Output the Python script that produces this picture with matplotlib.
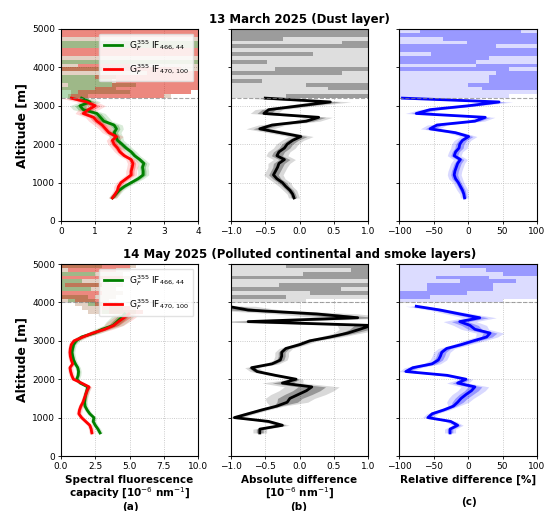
import matplotlib
matplotlib.use("Agg")
import matplotlib.pyplot as plt
import numpy as np

# ---------------- 13 March 2025 (Dust layer) ----------------
mar_alt = list(range(600, 3300, 100))
mar_g466 = [1.50, 1.60, 1.70, 1.85, 2.05, 2.25, 2.40, 2.40, 2.38, 2.42, 2.30, 2.15, 2.05, 1.90,
            1.78, 1.65, 1.60, 1.55, 1.62, 1.55, 1.25, 1.15, 1.05, 0.65, 0.55, 0.85, 0.60]
mar_g470 = [1.50, 1.58, 1.65, 1.68, 1.75, 1.90, 2.05, 2.05, 2.08, 2.10, 2.05, 1.85, 1.72, 1.65,
            1.55, 1.50, 1.62, 1.40, 1.30, 1.20, 1.05, 0.95, 0.65, 0.80, 1.00, 0.75, 0.30]
mar_abs = [-0.08, -0.10, -0.14, -0.20, -0.25, -0.33, -0.38, -0.35, -0.32, -0.30, -0.22, -0.33,
           -0.30, -0.22, -0.18, -0.10, 0.02, -0.28, -0.58, -0.40, 0.10, 0.28, -0.52, -0.45,
           0.00, 0.45, -0.50]
mar_rel = [-5, -6, -8, -11, -14, -18, -20, -19, -17, -15, -11, -20, -18, -13, -12, -8, 1, -18,
           -55, -45, 10, 25, -75, -55, 0, 45, -95]
mar_err_a = [0.06, 0.06, 0.06, 0.07, 0.07, 0.08, 0.08, 0.08, 0.08, 0.08, 0.08, 0.08, 0.08, 0.09,
             0.09, 0.09, 0.10, 0.10, 0.10, 0.12, 0.12, 0.12, 0.12, 0.15, 0.15, 0.15, 0.15]
mar_err_b = [0.04, 0.04, 0.05, 0.05, 0.06, 0.06, 0.07, 0.07, 0.07, 0.08, 0.08, 0.08, 0.08, 0.08,
             0.08, 0.08, 0.09, 0.09, 0.10, 0.10, 0.10, 0.10, 0.10, 0.10, 0.12, 0.15, 0.15]
mar_err_c = [3, 3, 4, 4, 4, 5, 5, 5, 5, 5, 5, 5, 5, 6, 6, 6, 6, 6, 7, 7, 7, 7, 8, 8, 9, 10, 10]
mar_cut = 3200

# noisy layer above the cut: 100 m stripes, (lo, hi) or None
mar_edges = list(range(3200, 5100, 100))
mar_pale_a = [(0.2, 3.2), (0.3, 3.8), (0, 4), (0, 4), (0, 4), (0, 4), (0, 4), (0, 4), (0, 4),
              (0, 4), (0, 4), (0, 4), (0, 4), (0, 4), (0, 4), (0, 4), (0, 4), (0, 4)]
mar_green_a = [(0, 0.8), (0, 2.0), (0, 1.6), (0.2, 2.2), (0, 1.5), (0, 1.6), None, (0, 1.2), None,
               (0, 4), None, None, None, (0, 4), (0, 4), None, None, None]
mar_red_a = [(0.3, 3.0), (0.5, 3.8), (1.0, 4), (1.5, 4), (1.6, 4), (1.0, 4), (2.5, 4), (0, 3.5),
             (0.5, 2.0), None, None, (0, 4), (0, 4), None, None, None, (0, 4), (0, 4)]
mar_light_b = [(-1, 0.9)] + [(-1, 1)] * 17
mar_dark_b = [(-0.19, 1), None, (0.42, 1), (0.10, 1), (-1, -0.55), None, (-1, 0.62), (-0.36, 1),
              None, (-1, -0.48), None, (-1, 0.20), None, (-1, 1), (0.62, 1), (-1, -0.24),
              (-1, 1), (-1, 1)]
mar_light_c = [(-100, 60)] + [(-100, 100)] * 17
mar_dark_c = [None, None, (20, 100), (0, 100), (30, 100), (30, 100), (40, 100), (-100, 60),
              (12, 100), (-100, 12), (-100, 30), (-54, 100), (-100, 100), (-100, 40), (-2, 100),
              (-36, 100), (-100, 100), (-70, 77)]

# ---------------- 14 May 2025 (Polluted continental and smoke layers) ----------------
may_alt_a = list(range(600, 3800, 100))
may_g466 = [2.85, 2.70, 2.50, 2.35, 2.40, 2.10, 1.90, 1.75, 1.72, 1.75, 1.80, 1.88, 1.95, 1.40,
            1.15, 1.25, 1.28, 1.22, 1.05, 0.92, 0.85, 0.80, 0.85, 0.92, 1.10, 1.50, 2.40, 3.00,
            3.80, 4.10, 4.40, 4.65]
may_g470 = [2.25, 2.20, 2.10, 1.80, 1.50, 1.30, 1.35, 1.45, 1.60, 1.70, 1.80, 1.90, 2.05, 1.50,
            0.90, 0.78, 0.70, 0.65, 0.85, 0.75, 0.68, 0.65, 0.68, 0.75, 0.95, 1.60, 2.30, 3.20,
            3.85, 4.20, 4.60, 4.95]
may_err_a = [0.10] * 24 + [0.15, 0.20, 0.25, 0.30, 0.35, 0.40, 0.40, 0.40]
may_alt_bc = list(range(600, 4000, 100))
may_abs = [-0.58, -0.58, -0.25, -0.45, -0.95, -0.75, -0.55, -0.33, -0.18, -0.14, -0.02, 0.10,
           0.18, -0.25, -0.05, -0.35, -0.62, -0.70, -0.40, -0.28, -0.26, -0.26, -0.20, 0.00,
           0.15, 0.45, 0.70, 0.88, 1.05, -0.75, 0.85, 0.25, -0.75, -1.05]
may_rel = [-26, -26, -15, -25, -58, -52, -35, -21, -15, -10, -3, 5, 10, -15, -3, -30, -90, -80,
           -52, -43, -40, -38, -31, -10, 8, 27, 32, 10, 3, -12, 17, -12, -40, -75]
may_err_b = [0.05] * 8 + [0.15, 0.18, 0.20, 0.20, 0.20, 0.15] + [0.05] * 10 + \
            [0.06, 0.08, 0.10, 0.15, 0.25, 0.30, 0.30, 0.30, 0.25, 0.20]
may_err_c = [4] * 8 + [8, 9, 10, 10, 10, 8] + [5, 5, 5, 6, 6, 6, 6, 6, 6, 6] + \
            [8, 8, 10, 10, 12, 12, 12, 10, 8, 8]
may_cut = 4000

may_edges = list(range(3700, 5100, 100))
may_pale_a = [(2.0, 6.0), (1.5, 5.5), (1.0, 4.5), (0, 3.5), (0, 4), (0, 4.5), (0, 4), (0, 4.5),
              (0, 3.5), (0, 5), (0, 4.5), (0, 5), (0, 5.5)]
may_green_a = [(3.0, 5.5), (3.5, 4.5), (2.0, 3.0), (0.5, 2.5), (0, 2.0), None, (0, 2.2),
               (0, 3.0), (0, 1.5), None, (0, 2.5), None, (0, 3.0)]
may_red_a = [(3.5, 6.0), (3.0, 5.0), (2.5, 4.0), (1.0, 2.8), (0, 2.5), (0, 3.0), None,
             (0.3, 3.0), None, (0, 4.5), None, (0.5, 4.0), (0, 5.0)]
may_light_b = [None, None, None, (-1, 0.1)] + [(-1, 1)] * 9
may_dark_b = [None, None, None, None, (-1, -0.2), (0.15, 1), (-1, 0.6), (-0.3, 1), None,
              (-1, 1), (0.05, 1), (0.75, 1), (-0.19, 1)]
may_light_c = [None, None, None, (-100, 50)] + [(-100, 100)] * 9
may_dark_c = [None, None, None, None, (-100, -55), (-100, -2), (-60, 36), (-60, 36), (-12, 70),
              (-46, 31), (51, 100), (26, 100), (-12, 100)]

label_466 = r"G$_F^{355}$ IF$_{466,\,44}$"
label_470 = r"G$_F^{355}$ IF$_{470,\,100}$"


def draw_profile(ax, alt, val, err, color, label=None):
    alt = np.array(alt)
    val = np.array(val)
    err = np.array(err)
    ax.fill_betweenx(alt, val - 2 * err, val + 2 * err, color=color, alpha=0.15, lw=0)
    ax.fill_betweenx(alt, val - err, val + err, color=color, alpha=0.3, lw=0)
    ax.plot(val, alt, color=color, lw=2.0, label=label)


def draw_stripes(ax, edges, spans, color, alpha=1.0):
    for a0, a1, s in zip(edges[:-1], edges[1:], spans):
        if s is None:
            continue
        ax.fill_betweenx([a0, a1], s[0], s[1], color=color, alpha=alpha, lw=0)


def style(ax, xlim, xticks, cut):
    ax.set_xlim(*xlim)
    ax.set_ylim(0, 5000)
    ax.set_xticks(xticks)
    ax.set_yticks([0, 1000, 2000, 3000, 4000, 5000])
    ax.grid(True, ls=':', lw=0.6, color='#bbbbbb')
    ax.set_axisbelow(True)
    ax.axhline(cut, color='gray', ls='--', lw=0.8, alpha=0.7)
    ax.tick_params(labelsize=6.5, length=2.5, width=0.6, pad=1.5)
    for sp in ax.spines.values():
        sp.set_linewidth(0.8)


fig = plt.figure(figsize=(5.44, 5.11), dpi=100)
H = 511.0
W = 544.0
rows = [(221, 'mar'), (456, 'may')]
cols = [61, 231, 399]
widths = [137, 137, 138]

cases = {
    'mar': dict(alt_a=mar_alt, g466=mar_g466, g470=mar_g470, err_a=mar_err_a, alt_bc=mar_alt,
                abs=mar_abs, rel=mar_rel, err_b=mar_err_b, err_c=mar_err_c, cut=mar_cut,
                edges=mar_edges, pale_a=mar_pale_a, green_a=mar_green_a, red_a=mar_red_a,
                light_b=mar_light_b, dark_b=mar_dark_b, light_c=mar_light_c, dark_c=mar_dark_c,
                xa=(0, 4), xta=[0, 1, 2, 3, 4],
                title="13 March 2025 (Dust layer)"),
    'may': dict(alt_a=may_alt_a, g466=may_g466, g470=may_g470, err_a=may_err_a, alt_bc=may_alt_bc,
                abs=may_abs, rel=may_rel, err_b=may_err_b, err_c=may_err_c, cut=may_cut,
                edges=may_edges, pale_a=may_pale_a, green_a=may_green_a, red_a=may_red_a,
                light_b=may_light_b, dark_b=may_dark_b, light_c=may_light_c, dark_c=may_dark_c,
                xa=(0, 10), xta=[0, 2.5, 5, 7.5, 10],
                title="14 May 2025 (Polluted continental and smoke layers)"),
}

for bottom_px, key in rows:
    d = cases[key]
    axes = [fig.add_axes([c / W, 1 - bottom_px / H, w / W, 192 / H]) for c, w in zip(cols, widths)]
    ax_a, ax_b, ax_c = axes

    # (a) spectral fluorescence capacity
    draw_stripes(ax_a, d['edges'], d['pale_a'], 'green', 0.12)
    draw_stripes(ax_a, d['edges'], d['pale_a'], 'red', 0.12)
    draw_stripes(ax_a, d['edges'], d['green_a'], 'green', 0.3)
    draw_stripes(ax_a, d['edges'], d['red_a'], 'red', 0.35)
    draw_profile(ax_a, d['alt_a'], d['g466'], d['err_a'], 'green', label_466)
    draw_profile(ax_a, d['alt_a'], d['g470'], d['err_a'], 'red', label_470)
    style(ax_a, d['xa'], d['xta'], d['cut'])
    ax_a.set_ylabel("Altitude [m]", fontsize=9, fontweight='bold', labelpad=3)
    ax_a.legend(loc='upper right', fontsize=6.5, framealpha=0.85, labelspacing=1.0,
                handlelength=2.0, borderpad=0.5, edgecolor='#dddddd')

    # (b) absolute difference
    draw_stripes(ax_b, d['edges'], d['light_b'], '#dedede')
    draw_stripes(ax_b, d['edges'], d['dark_b'], '#9c9c9c')
    draw_profile(ax_b, d['alt_bc'], d['abs'], d['err_b'], 'black')
    style(ax_b, (-1, 1), [-1.0, -0.5, 0.0, 0.5, 1.0], d['cut'])
    ax_b.set_yticklabels([])
    ax_b.set_title(d['title'], fontsize=8.5, fontweight='bold', pad=4)

    # (c) relative difference
    draw_stripes(ax_c, d['edges'], d['light_c'], '#dcdcff')
    draw_stripes(ax_c, d['edges'], d['dark_c'], '#9999ff')
    draw_profile(ax_c, d['alt_bc'], d['rel'], d['err_c'], 'blue')
    style(ax_c, (-100, 100), [-100, -50, 0, 50, 100], d['cut'])
    ax_c.set_yticklabels([])

    if key == 'may':
        ax_a.set_xlabel("Spectral fluorescence\ncapacity [10$^{-6}$ nm$^{-1}$]",
                        fontsize=7.5, fontweight='bold', labelpad=3, linespacing=1.1)
        ax_b.set_xlabel("Absolute difference\n[10$^{-6}$ nm$^{-1}$]",
                        fontsize=7.5, fontweight='bold', labelpad=3, linespacing=1.1)
        ax_c.set_xlabel("Relative difference [%]", fontsize=7.5, fontweight='bold', labelpad=3)

fig.text(130 / W, 1 - 507 / H, "(a)", fontsize=7.5, fontweight='bold', ha='center', va='center')
fig.text(299 / W, 1 - 507 / H, "(b)", fontsize=7.5, fontweight='bold', ha='center', va='center')
fig.text(469 / W, 1 - 502 / H, "(c)", fontsize=7.5, fontweight='bold', ha='center', va='center')

fig.savefig("out.png", dpi=100)
